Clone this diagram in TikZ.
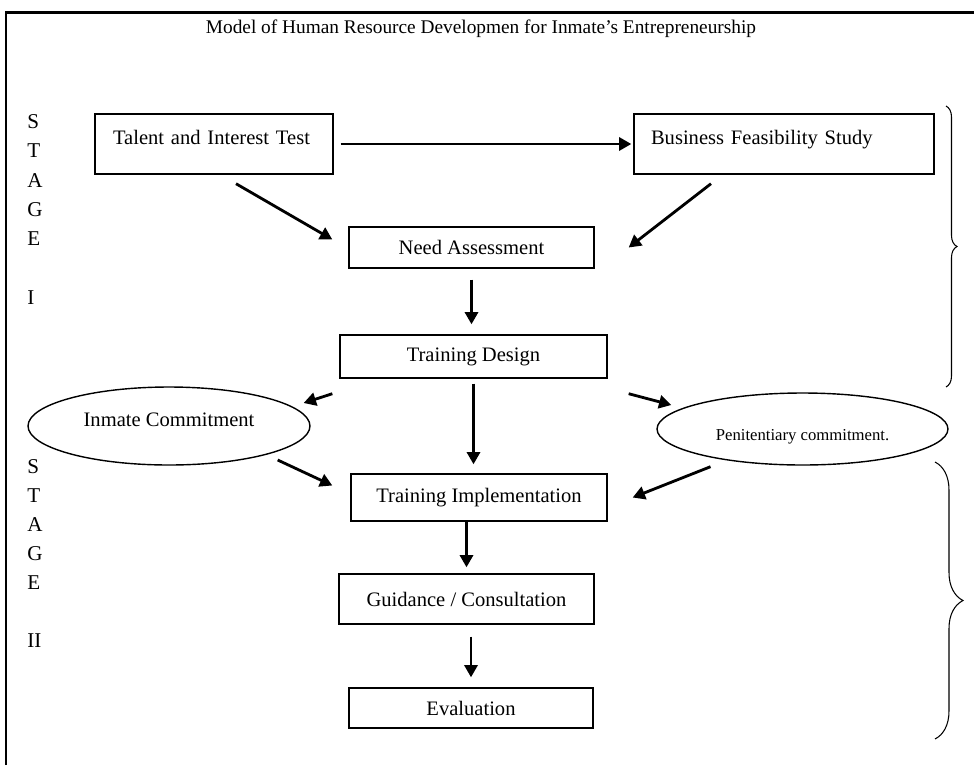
\documentclass[tikz,border=0pt]{standalone}
\usepackage{fontspec}
\setmainfont{Liberation Serif}
\usetikzlibrary{shapes.geometric, arrows.meta, decorations.pathreplacing}

\begin{document}
\begin{tikzpicture}[x=0.02cm, y=-0.02cm,
    box/.style={draw, line width=0.8pt, inner sep=0pt, font=\fontsize{11.7}{14}\selectfont},
    topbox/.style={box, align=left, text height=0.6cm, text depth=0.6cm},
    oval/.style={draw, ellipse, line width=0.8pt, inner sep=0pt},
    flow/.style={line width=1.6pt, -{Triangle[length=7pt,width=7.5pt]}},
    stagetxt/.style={anchor=west, inner sep=0pt, text height=0.28cm, text depth=0pt, font=\fontsize{12}{14}\selectfont}]

	\useasboundingbox (0,0) rectangle (974,765);
	% the outer frame, only its left and top sides are seen
	\draw[line width=1.2pt] (6,765) -- (6,12.5) -- (974,12.5);

	\node[font=\fontsize{11}{13}\selectfont] (title) at (481,29) {Model of Human Resource Developmen for Inmate’s Entrepreneurship};

	% stage I
	\node[topbox, text width=4.04cm, inner xsep=0.36cm] (talent) at (214,144) {Talent and Interest Test};
	\node[topbox, text width=5.32cm, inner xsep=0.34cm] (business) at (784,144) {Business Feasibility Study};
	\node[box, minimum width=4.9cm, minimum height=0.82cm] (need) at (471.5,247.5) {Need Assessment};
	\node[box, minimum width=5.34cm, minimum height=0.86cm] (design) at (473.5,356.5) {Training Design};

	% the two commitments
	\node[oval, minimum width=5.64cm, minimum height=1.56cm, font=\fontsize{11.7}{14}\selectfont, text height=0.3cm, text depth=0.3cm] (inmate) at (169,426) {Inmate Commitment};
	\node[oval, minimum width=5.82cm, minimum height=1.44cm, font=\fontsize{9.5}{11}\selectfont, text height=0.54cm, text depth=0.1cm] (penit) at (802.5,429) {Penitentiary commitment.};

	% stage II
	\node[box, minimum width=5.12cm, minimum height=0.94cm] (impl) at (479,497.5) {Training Implementation};
	\node[box, minimum width=5.1cm, minimum height=1cm] (guidance) at (466.5,599) {Guidance / Consultation};
	\node[box, minimum width=4.88cm, minimum height=0.8cm] (eval) at (471,708) {Evaluation};

	% arrows
	\draw[flow, shorten <=0.14cm, shorten >=0.04cm] (talent.east) -- (business.west);
	\draw[flow] ([shift={(22,9)}]talent.south) -- ([shift={(-16,-8)}]need.west);
	\draw[flow] ([shift={(-73,9)}]business.south) -- ([shift={(34,0)}]need.east);
	\draw[flow, shorten <=0.22cm, shorten >=0.2cm] (need.south) -- (need.south |- design.north);
	\draw[flow] ([shift={(-7,15)}]design.south west) -- ([shift={(-7,-23)}]inmate.east);
	\draw[flow, shorten <=0.1cm, shorten >=0.18cm] (design.south) -- (design.south |- impl.north);
	\draw[flow] ([shift={(21,15)}]design.south east) -- ([shift={(15,-24)}]penit.west);
	\draw[flow] ([shift={(-33,34)}]inmate.east) -- ([shift={(-18,-12)}]impl.west);
	\draw[flow] ([shift={(-92,1)}]penit.south) -- ([shift={(25,0)}]impl.east);
	\draw[flow, shorten >=0.12cm] (guidance.north |- impl.south) -- (guidance.north);
	\draw[flow, shorten <=0.24cm, shorten >=0.2cm] (eval.north |- guidance.south) -- (eval.north);

	% stage labels, one letter a line
	\foreach \l/\yy [count=\i] in {S/121,T/150,A/180,G/209,E/238,I/297}
		\node[stagetxt] (one\i) at (27,\yy) {\l};
	\foreach \l/\yy [count=\i] in {S/466,T/495,A/524,G/553,E/582,II/640}
		\node[stagetxt] (two\i) at (27,\yy) {\l};

	% braces on the right
	\draw[decorate, decoration={brace, amplitude=0.22cm}, line width=0.6pt] (946,106) -- (946,387);
	\draw[decorate, decoration={brace, amplitude=0.56cm}, line width=0.6pt] (935,462) -- (935,739);

\end{tikzpicture}
\end{document}
